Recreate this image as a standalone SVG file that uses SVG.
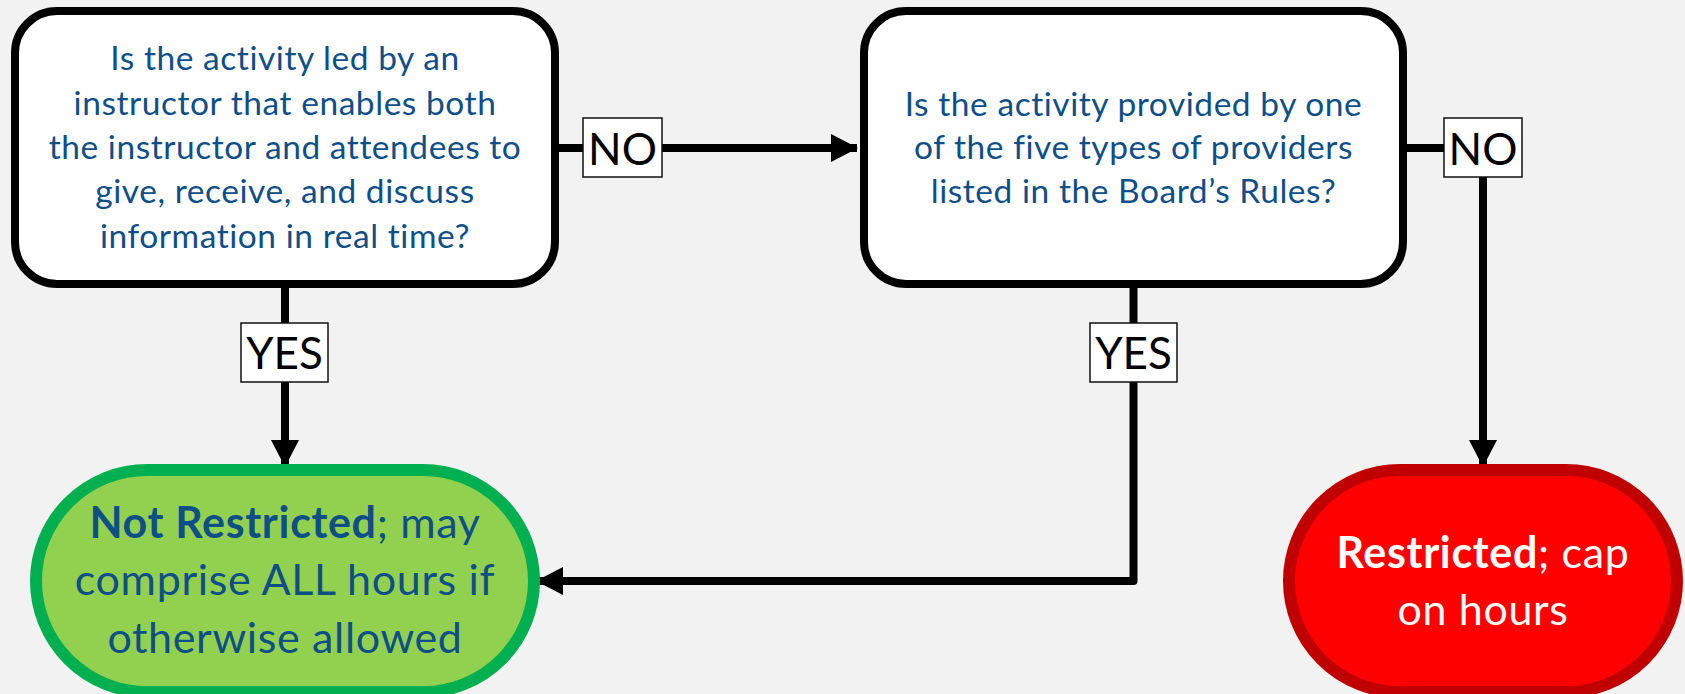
<svg xmlns="http://www.w3.org/2000/svg" width="1685" height="694" viewBox="0 0 1685 694">
<style>
.q{fill:#fff;stroke:#000;stroke-width:8}
.qt{font-family:Lato,"Liberation Sans",sans-serif;font-size:33.5px;letter-spacing:0.55px;fill:#0F4F87;text-anchor:middle}
.lb{fill:#fff;stroke:#111;stroke-width:1.5}
.lt{font-family:Lato,"Liberation Sans",sans-serif;font-size:44px;fill:#000;text-anchor:middle}
.ct{stroke:#000;stroke-width:8;fill:none;stroke-linejoin:round}
.rt{font-family:Lato,"Liberation Sans",sans-serif;font-size:43px;letter-spacing:0.65px;text-anchor:middle}
</style>
<defs>
<marker id="ah" markerUnits="userSpaceOnUse" markerWidth="27" markerHeight="28" refX="26" refY="14" orient="auto">
<path d="M0,0 L27,14 L0,28 z" fill="#000"/>
</marker>
</defs>
<rect width="1685" height="694" fill="#F2F2F2"/>
<g id="connectors">
<path class="ct" d="M555,148 H857" marker-end="url(#ah)"/>
<path class="ct" d="M1403,148 H1483 V466" marker-end="url(#ah)"/>
<path class="ct" d="M285,284 V466" marker-end="url(#ah)"/>
<path class="ct" d="M1133.5,284 V581 H537" marker-end="url(#ah)"/>
</g>
<g id="q1">
<rect class="q" x="15" y="11" width="540" height="273" rx="42"/>
<text class="qt"><tspan x="285" y="70">Is the activity led by an</tspan><tspan x="285" y="115">instructor that enables both</tspan><tspan x="285" y="159">the instructor and attendees to</tspan><tspan x="285" y="203">give, receive, and discuss</tspan><tspan x="285" y="248">information in real time?</tspan></text>
</g>
<g id="q2">
<rect class="q" x="864" y="11" width="539" height="273" rx="42"/>
<text class="qt"><tspan x="1133.5" y="116">Is the activity provided by one</tspan><tspan x="1133.5" y="159">of the five types of providers</tspan><tspan x="1133.5" y="203">listed in the Board’s Rules?</tspan></text>
</g>
<g id="lbl-no1">
<rect class="lb" x="583" y="118" width="79" height="59"/>
<text class="lt" x="622.5" y="165">NO</text>
</g>
<g id="lbl-no2">
<rect class="lb" x="1444" y="118" width="78" height="59"/>
<text class="lt" x="1483" y="165">NO</text>
</g>
<g id="lbl-yes1">
<rect class="lb" x="241" y="323" width="87" height="59"/>
<text class="lt" x="284.5" y="369">YES</text>
</g>
<g id="lbl-yes2">
<rect class="lb" x="1090" y="323" width="87" height="59"/>
<text class="lt" x="1133.5" y="369">YES</text>
</g>
<g id="not-restricted">
<rect x="36" y="470" width="498" height="222" rx="111" fill="#92D050" stroke="#00B050" stroke-width="12"/>
<text class="rt" fill="#0F4F87"><tspan x="285" y="538"><tspan font-weight="bold">Not Restricted</tspan>; may</tspan><tspan x="285" y="595">comprise ALL hours if</tspan><tspan x="285" y="653">otherwise allowed</tspan></text>
</g>
<g id="restricted">
<rect x="1289" y="470" width="388" height="222" rx="111" fill="#FF0000" stroke="#C00000" stroke-width="12"/>
<text class="rt" fill="#fff"><tspan x="1483" y="568"><tspan font-weight="bold">Restricted</tspan>; cap</tspan><tspan x="1483" y="625">on hours</tspan></text>
</g>
</svg>
